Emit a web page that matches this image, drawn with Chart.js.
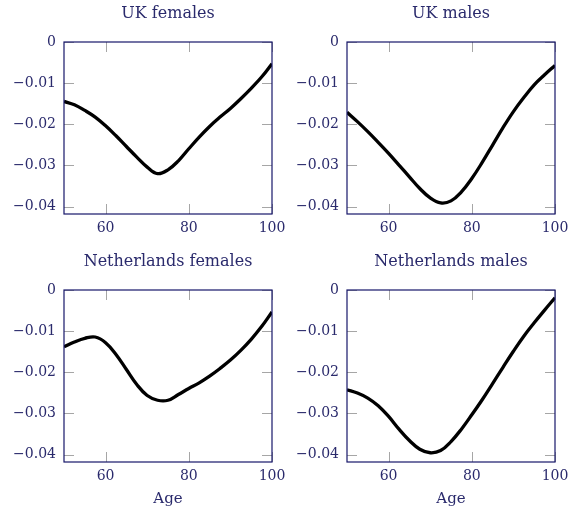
<!DOCTYPE html>
<html>
<head>
<meta charset="utf-8">
<script src="https://cdn.jsdelivr.net/npm/chart.js@4.4.0/dist/chart.umd.min.js"></script>
<style>
  body { margin: 0; background: #ffffff; }
  #wrap { position: relative; width: 570px; height: 507px; }
  #wrap canvas { position: absolute; }
</style>
</head>
<body>
<div id="wrap">
  <canvas id="ukFemalesChart" width="285" height="245" style="left:0;top:0"></canvas>
  <canvas id="ukMalesChart" width="285" height="245" style="left:283px;top:0"></canvas>
  <canvas id="nlFemalesChart" width="285" height="259" style="left:0;top:248px"></canvas>
  <canvas id="nlMalesChart" width="285" height="259" style="left:283px;top:248px"></canvas>
</div>
<script>
// ages sampled every 2.5 years
const ages = [50, 52.5, 55, 57.5, 60, 62.5, 65, 67.5, 70, 72.5, 75, 77.5, 80, 82.5, 85, 87.5, 90, 92.5, 95, 97.5, 100];

const ukFemales = [-0.01444, -0.01525, -0.01663, -0.01825, -0.02036, -0.02279, -0.02539, -0.02798, -0.03041, -0.03200, -0.03106,
                   -0.02887, -0.02595, -0.02311, -0.02052, -0.01825, -0.01614, -0.01379, -0.01127, -0.00852, -0.00527];
const ukMales = [-0.01707, -0.01935, -0.02179, -0.02439, -0.02707, -0.02992, -0.03276, -0.03561, -0.03789, -0.03910, -0.03862,
                 -0.03642, -0.03317, -0.02927, -0.02504, -0.02081, -0.01691, -0.01350, -0.01041, -0.00797, -0.00569];
const nlFemales = [-0.01378, -0.01264, -0.01175, -0.01142, -0.01280, -0.01565, -0.01931, -0.02297, -0.02565, -0.02679, -0.02679,
                   -0.02541, -0.02394, -0.02256, -0.02093, -0.01907, -0.01703, -0.01467, -0.01199, -0.00890, -0.00533];
const nlMales = [-0.02423, -0.02504, -0.02626, -0.02813, -0.03073, -0.03382, -0.03659, -0.03870, -0.03955, -0.03902, -0.03683,
                 -0.03382, -0.03033, -0.02667, -0.02276, -0.01878, -0.01488, -0.01122, -0.00797, -0.00488, -0.00187];

const xTicks = [60, 80, 100];
const yTicks = [0, -0.01, -0.02, -0.03, -0.04];
const yTickLabels = ['0', '\u22120.01', '\u22120.02', '\u22120.03', '\u22120.04'];

const SERIF = "'DejaVu Serif', serif";
const TEXT_COLOR = '#2a2a6c';
const FRAME_COLOR = '#16166a';
const TICK_COLOR = '#a6a6a6';

// pgfplots-like box: inner ticks on all four sides, then the frame on top
const axisFrame = {
    id: 'axisFrame',
    beforeDatasetsDraw(chart) {
        const { ctx, chartArea: a, scales: { x, y } } = chart;
        ctx.save();
        ctx.strokeStyle = TICK_COLOR; ctx.lineWidth = 1;
        ctx.beginPath();
        xTicks.forEach(v => {
            const px = Math.round(x.getPixelForValue(v)) + 0.5;
            ctx.moveTo(px, a.top); ctx.lineTo(px, a.top + 10);
            ctx.moveTo(px, a.bottom); ctx.lineTo(px, a.bottom - 10);
        });
        yTicks.forEach(v => {
            const py = Math.round(y.getPixelForValue(v)) + 0.5;
            ctx.moveTo(a.left, py); ctx.lineTo(a.left + 10, py);
            ctx.moveTo(a.right, py); ctx.lineTo(a.right - 10, py);
        });
        ctx.stroke();
        ctx.restore();
    },
    afterDatasetsDraw(chart) {
        const { ctx, chartArea: a } = chart;
        ctx.save();
        ctx.strokeStyle = FRAME_COLOR; ctx.lineWidth = 1.2;
        ctx.strokeRect(a.left, a.top, a.right - a.left, a.bottom - a.top);
        ctx.restore();
    }
};

// title centred over the plot box, not over the whole canvas
const panelTitle = {
    id: 'panelTitle',
    afterDraw(chart, args, opts) {
        const { ctx, chartArea: a } = chart;
        ctx.save();
        ctx.fillStyle = TEXT_COLOR;
        ctx.font = `16px ${SERIF}`;
        ctx.textAlign = 'center'; ctx.textBaseline = 'middle';
        ctx.fillText(opts.text, (a.left + a.right) / 2, 14);
        ctx.restore();
    }
};

function createPanel(canvasId, title, values, showAge) {
    const ctx = document.getElementById(canvasId);
    if (!ctx) { console.error(`Chart Error: Canvas element #${canvasId} not found.`); return; }

    const chartData = {
        datasets: [{
            label: title,
            data: ages.map((a, i) => ({ x: a, y: values[i] })),
            borderColor: '#000000', borderWidth: 3.3, pointRadius: 0,
            fill: false, tension: 0.4
        }]
    };
    const chartOptions = {
        responsive: false, animation: false, events: [],
        layout: { padding: { left: 0, right: 13, top: 42, bottom: 0 } },
        plugins: {
            legend: { display: false },
            tooltip: { enabled: false },
            title: { display: false },
            panelTitle: { text: title }
        },
        scales: {
            x: {
                type: 'linear', min: 50, max: 100,
                afterBuildTicks: s => { s.ticks = xTicks.map(v => ({ value: v })); },
                afterFit: s => { s.height = showAge ? 45 : 31; s.paddingLeft = 0; s.paddingRight = 0; },
                grid: { display: false, drawTicks: false }, border: { display: false },
                ticks: { color: TEXT_COLOR, font: { family: SERIF, size: 14 }, padding: 6, maxRotation: 0, autoSkip: false },
                title: { display: showAge, text: 'Age', color: TEXT_COLOR, font: { family: SERIF, size: 15, lineHeight: 1 }, padding: { top: 0, bottom: 0 } }
            },
            y: {
                type: 'linear', min: -0.0418, max: 0,
                afterBuildTicks: s => { s.ticks = yTicks.map(v => ({ value: v })); },
                afterFit: s => { s.width = 64; s.paddingTop = 0; s.paddingBottom = 0; },
                grid: { display: false, drawTicks: false }, border: { display: false },
                ticks: {
                    color: TEXT_COLOR, font: { family: SERIF, size: 14 }, padding: 8, autoSkip: false,
                    callback: v => yTickLabels[yTicks.findIndex(t => Math.abs(t - v) < 1e-9)]
                }
            }
        }
    };

    try { new Chart(ctx, { type: 'line', data: chartData, options: chartOptions, plugins: [axisFrame, panelTitle] }); }
    catch (error) { console.error(`Error initializing chart #${canvasId}:`, error); }
}

createPanel('ukFemalesChart', 'UK females', ukFemales, false);
createPanel('ukMalesChart', 'UK males', ukMales, false);
createPanel('nlFemalesChart', 'Netherlands females', nlFemales, true);
createPanel('nlMalesChart', 'Netherlands males', nlMales, true);
</script>
</body>
</html>
